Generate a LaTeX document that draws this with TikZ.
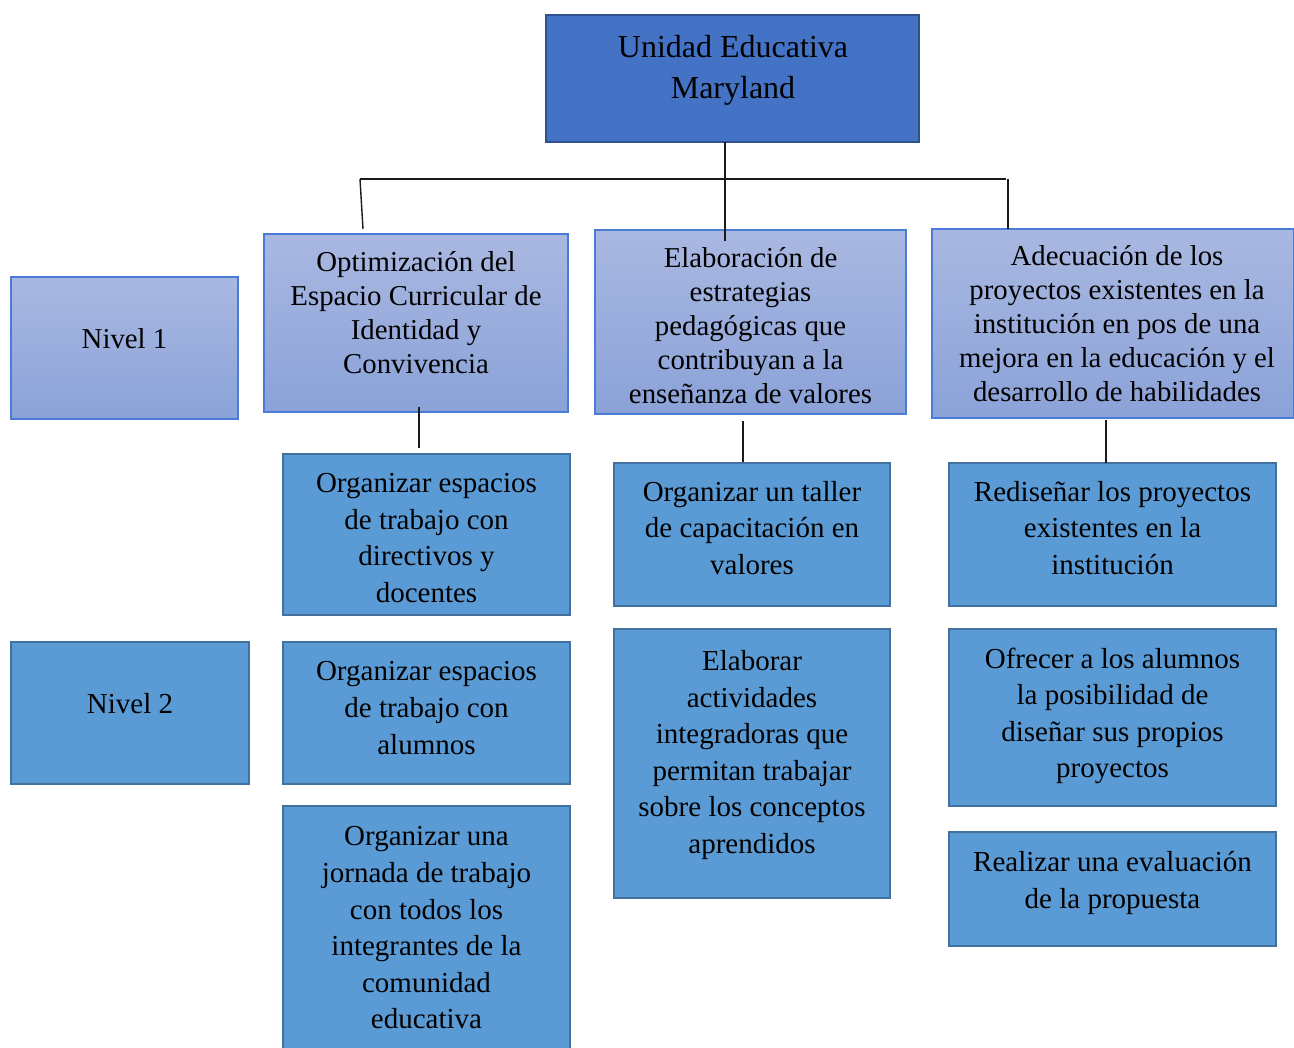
\documentclass[tikz,border=0pt]{standalone}
\usepackage{fontspec}
\setmainfont{Liberation Serif}
\definecolor{topfill}{HTML}{4472C4}
\definecolor{topdraw}{HTML}{2F528F}
\definecolor{lonetop}{HTML}{A9B8E1}
\definecolor{lonebot}{HTML}{8BA2D8}
\definecolor{lonedraw}{HTML}{4A7BD6}
\definecolor{ltwofill}{HTML}{5B9BD5}
\definecolor{ltwodraw}{HTML}{41719C}
\definecolor{connc}{HTML}{1A1A1A}
\tikzset{
  x=0.5pt, y=-0.5pt,
  boxbase/.style={rectangle, inner sep=0pt, outer sep=0pt},
  topbox/.style={boxbase, fill=topfill, draw=topdraw, line width=1pt},
  lonebox/.style={boxbase, top color=lonetop, bottom color=lonebot, draw=lonedraw, line width=0.7pt},
  ltwobox/.style={boxbase, fill=ltwofill, draw=ltwodraw, line width=1.1pt},
  toptxt/.style={align=center, inner sep=0pt, font=\fontsize{16}{20.5}\selectfont},
  lonetxt/.style={align=center, inner sep=0pt, font=\fontsize{14.4}{17}\selectfont},
  ltwotxt/.style={align=center, inner sep=0pt, font=\fontsize{14.5}{18.3}\selectfont},
  conn/.style={draw=connc, line width=0.7pt}
}
\begin{document}
\begin{tikzpicture}
\useasboundingbox (0,0) rectangle (1294,1048);
% top
\node[topbox, minimum width=186.5pt, minimum height=63.5pt] (top) at (732.5,78.5) {};
\node[toptxt] (topT) at (733,70) {Unidad Educativa\\Maryland};
% level 1
\node[lonebox, minimum width=113.5pt, minimum height=71pt] (n1) at (124.5,348) {};
\node[lonetxt] (n1T) at (124.5,339) {Nivel 1};
\node[lonebox, minimum width=152pt, minimum height=89pt] (opt) at (416,323) {};
\node[lonetxt] (optT) at (416,313) {Optimización del\\Espacio Curricular de\\Identidad y\\Convivencia};
\node[lonebox, minimum width=155.5pt, minimum height=92pt] (elab) at (750.5,322) {};
\node[lonetxt] (elabT) at (750.5,326) {Elaboración de\\estrategias\\pedagógicas que\\contribuyan a la\\enseñanza de valores};
\node[lonebox, minimum width=181pt, minimum height=94.5pt] (adec) at (1113,323.5) {};
\node[lonetxt] (adecT) at (1117,324) {Adecuación de los\\proyectos existentes en la\\institución en pos de una\\mejora en la educación y el\\desarrollo de habilidades};
% level 2
\node[ltwobox, minimum width=119pt, minimum height=71pt] (n2) at (130,713) {};
\node[ltwotxt] (n2T) at (130,704) {Nivel 2};
\node[ltwobox, minimum width=143.5pt, minimum height=80.5pt] (b1) at (426.5,534.5) {};
\node[ltwotxt] (b1T) at (426.5,538) {Organizar espacios\\de trabajo con\\directivos y\\docentes};
\node[ltwobox, minimum width=143.5pt, minimum height=71pt] (b2) at (426.5,713) {};
\node[ltwotxt] (b2T) at (426.5,708) {Organizar espacios\\de trabajo con\\alumnos};
\node[ltwobox, minimum width=143.5pt, minimum height=122pt] (b3) at (426.5,928) {};
\node[ltwotxt] (b3T) at (426.5,928) {Organizar una\\jornada de trabajo\\con todos los\\integrantes de la\\comunidad\\educativa};
\node[ltwobox, minimum width=138pt, minimum height=71.5pt] (t1) at (752,534.5) {};
\node[ltwotxt] (t1T) at (752,528) {Organizar un taller\\de capacitación en\\valores};
\node[ltwobox, minimum width=138pt, minimum height=134.5pt] (t2) at (752,763.5) {};
\node[ltwotxt] (t2T) at (752,755) {Elaborar\\actividades\\integradoras que\\permitan trabajar\\sobre los conceptos\\aprendidos};
\node[ltwobox, minimum width=163.5pt, minimum height=71.5pt] (r1) at (1112.5,534.5) {};
\node[ltwotxt] (r1T) at (1112.5,528) {Rediseñar los proyectos\\existentes en la\\institución};
\node[ltwobox, minimum width=163.5pt, minimum height=88.5pt] (r2) at (1112.5,717.5) {};
\node[ltwotxt] (r2T) at (1112.5,716) {Ofrecer a los alumnos\\la posibilidad de\\diseñar sus propios\\proyectos};
\node[ltwobox, minimum width=163.5pt, minimum height=57pt] (r3) at (1112.5,889) {};
\node[ltwotxt] (r3T) at (1112.5,883) {Realizar una evaluación\\de la propuesta};
% connectors
\coordinate (barL) at (360,179);
\coordinate (barR) at (1006,179);
\coordinate (barM) at (725,179);
\coordinate (optIn) at (363,229);
\coordinate (adecTop) at (1008,179);
\coordinate (adecIn) at (1008,229);
\coordinate (elabIn) at (725,241);
\draw[conn] (barL) -- (barR);
\draw[conn] (top.south -| barM) -- (elabIn);
\draw[conn] (barL) -- (optIn);
\draw[conn] (adecTop) -- (adecIn);
\coordinate (optOut) at (419,407);
\coordinate (b1In) at (419,448);
\draw[conn] (optOut) -- (b1In);
\coordinate (elabOut) at (743,421);
\coordinate (t1In) at (743,462);
\draw[conn] (elabOut) -- (t1In);
\coordinate (adecOut) at (1106,420);
\coordinate (r1In) at (1106,463);
\draw[conn] (adecOut) -- (r1In);
\end{tikzpicture}
\end{document}
